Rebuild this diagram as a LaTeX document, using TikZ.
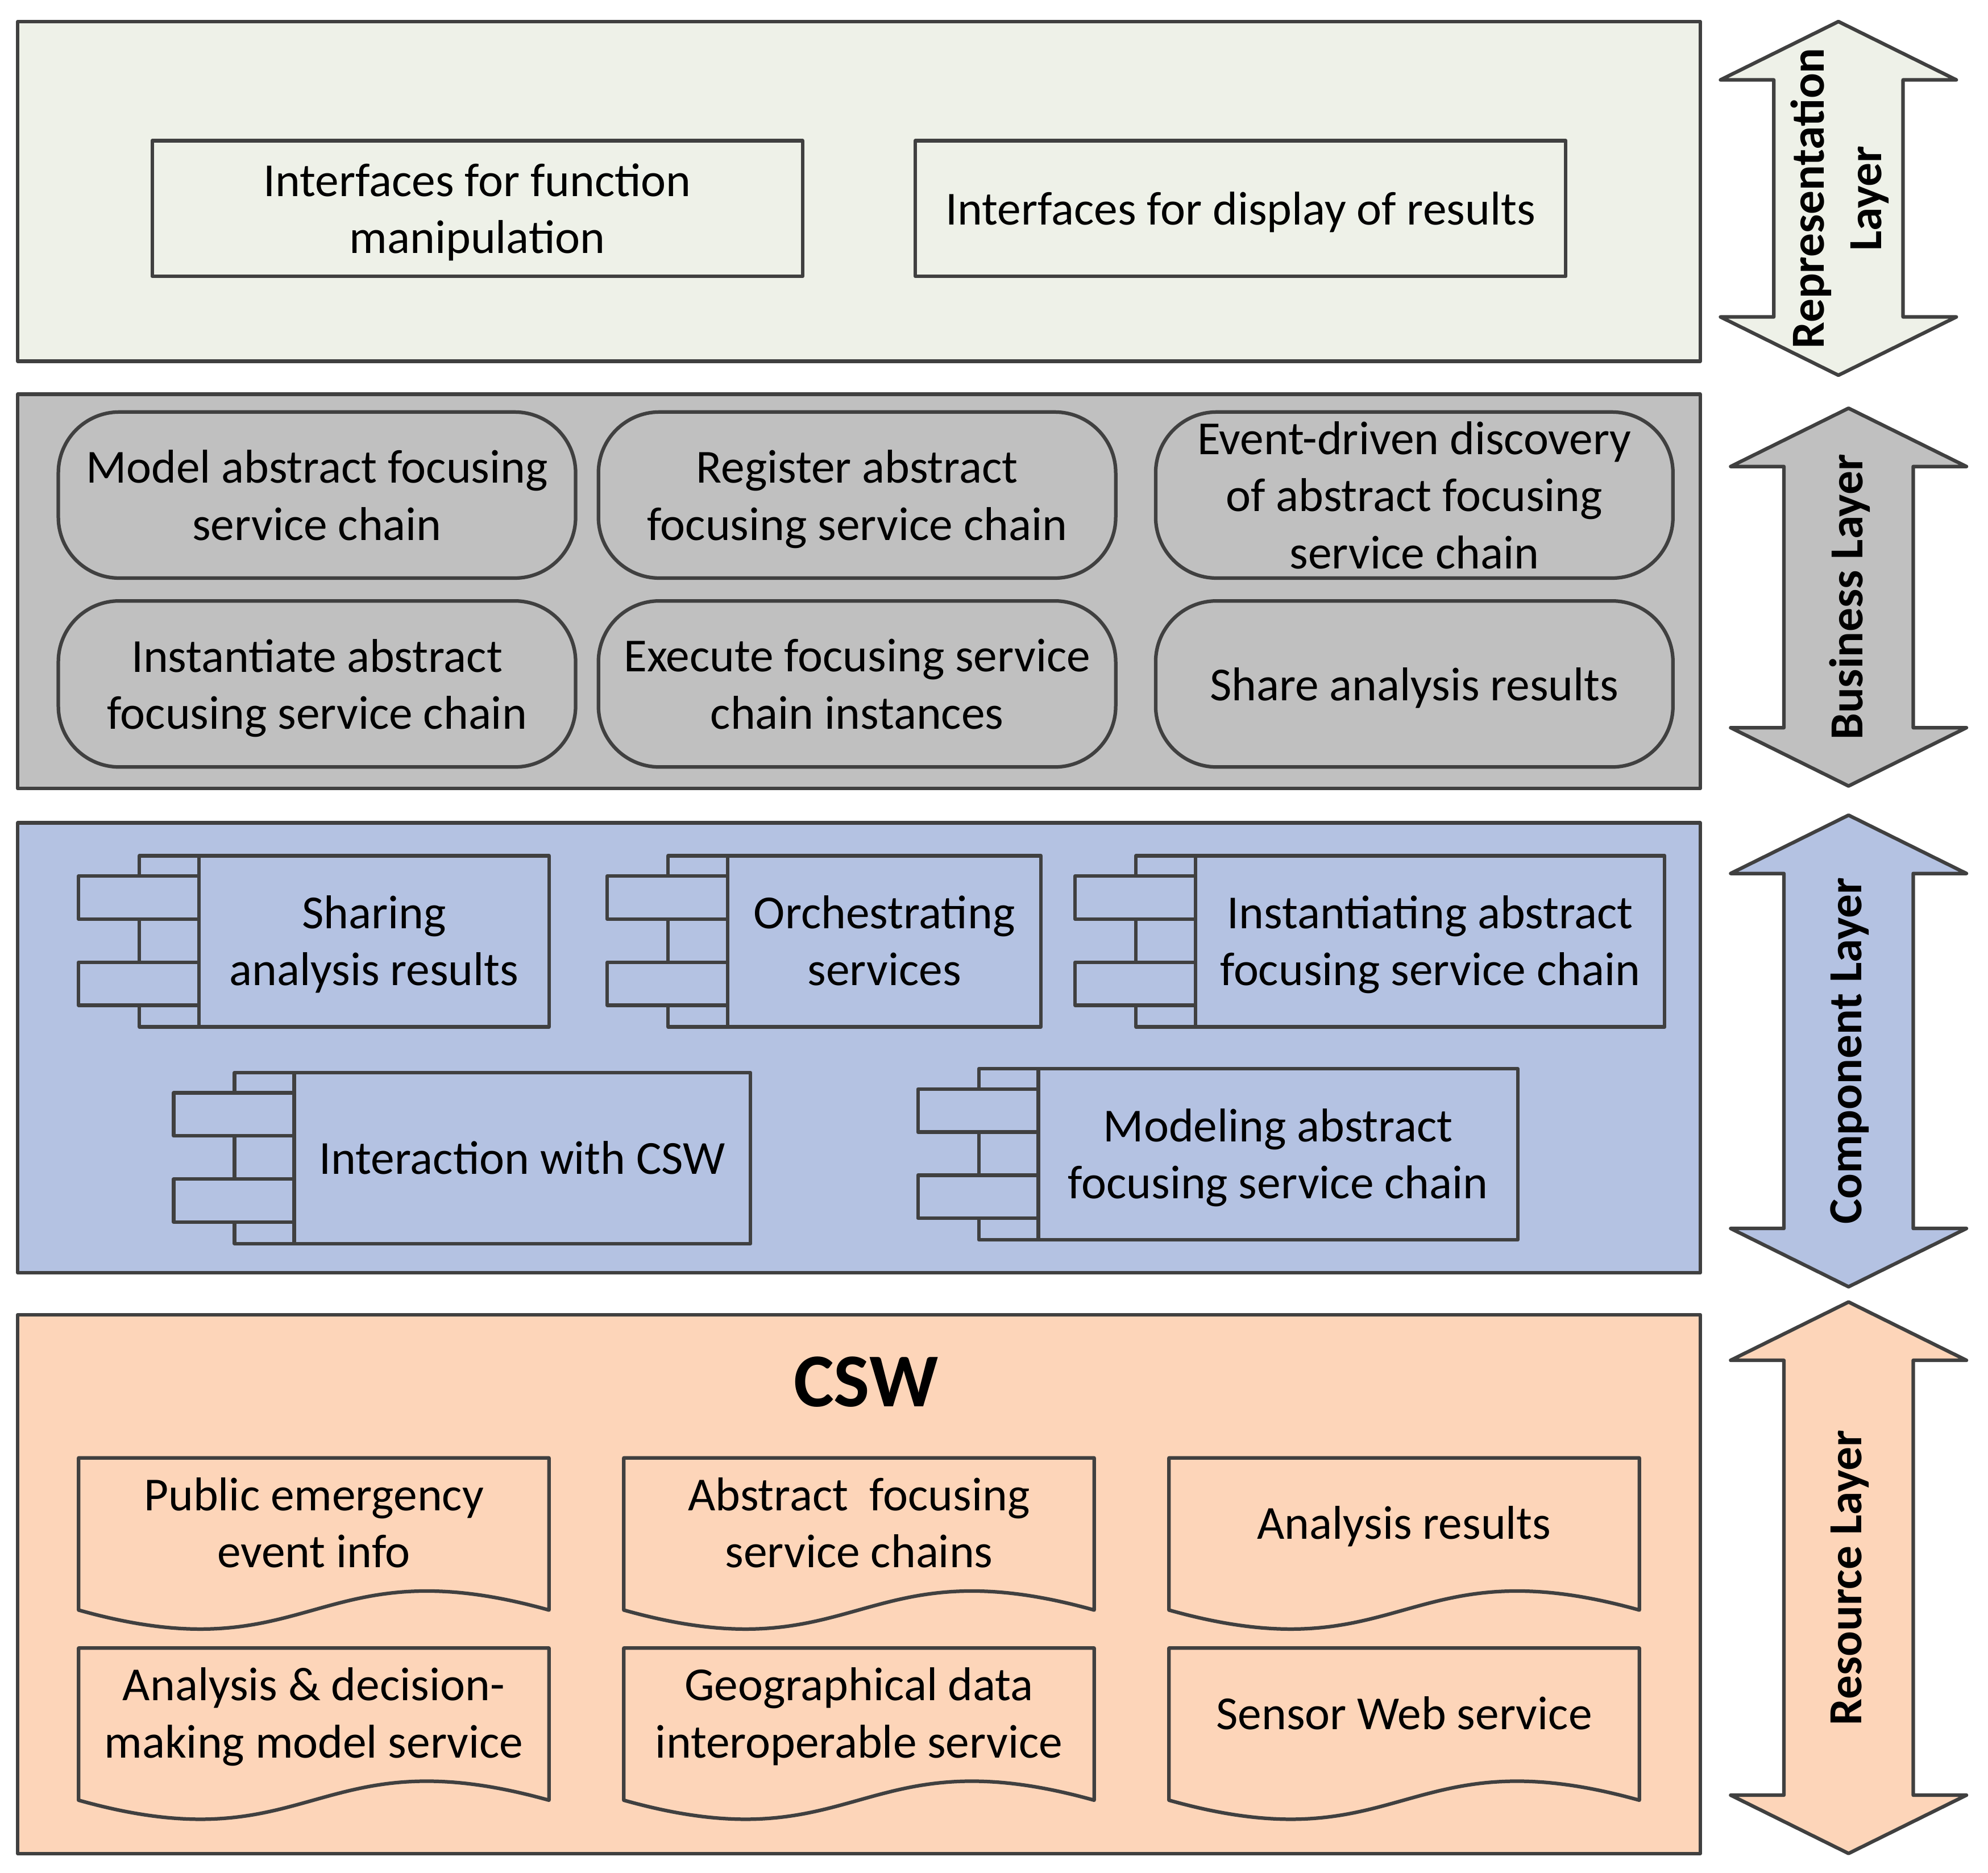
\documentclass[tikz,border=0pt]{standalone}
\usepackage{fontspec}
\setmainfont{Carlito}

\definecolor{linegray}{HTML}{404040}
\definecolor{repfill}{HTML}{EEF1E8}
\definecolor{busfill}{HTML}{C0C0C0}
\definecolor{compfill}{HTML}{B4C2E2}
\definecolor{resfill}{HTML}{FDD5B9}

\newcommand{\boxfont}{\fontsize{18.7}{22.5}\selectfont}

% document shape with wavy bottom: name, left, top, text
\newcommand{\docbox}[4]{%
    \begin{scope}[shift={(#2,#3)}]
        \draw[shapeline, fill=resfill] (0,0) -- (371,0) -- (371,120)
            .. controls (185,68) and (185,172) .. (0,120) -- cycle;
        \node[boxtext] (#1) at (185.5,51) {#4};
    \end{scope}}

% component icon: name, left, top, right, text
\newcommand{\compbox}[5]{%
    \begin{scope}[shift={(#2,#3)}]
        \draw[shapeline, fill=compfill] (48,0) rectangle (#4-#2,135);
        \draw[shapeline] (95,0) -- (95,135);
        \draw[shapeline, fill=compfill] (0,16) rectangle (95,50);
        \draw[shapeline, fill=compfill] (0,84) rectangle (95,118);
        \node[boxtext] (#1) at ({(95+#4-#2)/2},67) {#5};
    \end{scope}}

% double arrow at the side: name, centre x, top, bottom, fill, text
\newcommand{\layerarrow}[6]{%
    \draw[shapeline, fill=#5] (#2,#3) -- (#2+93,#3+46) -- (#2+51,#3+46)
        -- (#2+51,#4-46) -- (#2+93,#4-46) -- (#2,#4) -- (#2-93,#4-46)
        -- (#2-51,#4-46) -- (#2-51,#3+46) -- (#2-93,#3+46) -- cycle;
    \node[layertext] (#1) at (#2+1,{(#3+#4)/2}) {#6};}

\begin{document}
\begin{tikzpicture}[x=0.5pt, y=-0.5pt,
    shapeline/.style={draw=linegray, line width=1.4pt, line join=round},
    boxtext/.style={align=center, font=\boxfont, inner sep=0pt, text depth=0pt},
    layertext/.style={align=center, font=\boxfont\bfseries, rotate=90, inner sep=0pt},
    plainbox/.style={shapeline, boxtext, minimum width=256.5pt, minimum height=53.5pt},
    taskbox/.style={shapeline, boxtext, fill=busfill, rounded corners=24pt,
        minimum width=204pt, minimum height=65.5pt}]
    \useasboundingbox (0,0) rectangle (1568,1477);

    % representation layer
    \draw[shapeline, fill=repfill] (14,17) rectangle (1341,285);
    \node[plainbox] (funcui) at (376.5,164.5) {Interfaces for function\\manipulation};
    \node[plainbox] (dispui) at (978.5,164.5) {Interfaces for display of results};

    % business layer
    \draw[shapeline, fill=busfill] (14,311) rectangle (1341,622);
    \node[taskbox] (model) at (250,390.5) {Model abstract focusing\\service chain};
    \node[taskbox] (register) at (676,390.5) {Register abstract\\focusing service chain};
    \node[taskbox] (discover) at (1115.5,390.5) {Event-driven discovery\\of abstract focusing\\service chain};
    \node[taskbox] (instantiate) at (250,539.5) {Instantiate abstract\\focusing service chain};
    \node[taskbox] (execute) at (676,539.5) {Execute focusing service\\chain instances};
    \node[taskbox] (share) at (1115.5,539.5) {Share analysis results};

    % component layer
    \draw[shapeline, fill=compfill] (14,649) rectangle (1341,1004);
    \compbox{sharing}{62}{675}{433}{Sharing\\analysis results}
    \compbox{orchestrating}{479}{675}{821}{Orchestrating\\services}
    \compbox{instantiating}{848}{675}{1313}{Instantiating abstract\\focusing service chain}
    \compbox{interaction}{137}{846}{592}{Interaction with CSW}
    \compbox{modeling}{724}{843}{1197}{Modeling abstract\\focusing service chain}

    % resource layer
    \draw[shapeline, fill=resfill] (14,1037) rectangle (1341,1462);
    \node[font=\fontsize{30}{36}\selectfont\bfseries] (csw) at (683,1090) {CSW};
    \docbox{eventinfo}{62}{1150}{Public emergency\\event info}
    \docbox{chains}{492}{1150}{Abstract~ focusing\\service chains}
    \docbox{results}{922}{1150}{Analysis results}
    \docbox{decision}{62}{1300}{Analysis \& decision-\\making model service}
    \docbox{geodata}{492}{1300}{Geographical data\\interoperable service}
    \docbox{sensorweb}{922}{1300}{Sensor Web service}

    % layer arrows
    \layerarrow{replayer}{1450}{17}{296}{repfill}{Representation\\Layer}
    \layerarrow{buslayer}{1458}{322}{620}{busfill}{Business Layer}
    \layerarrow{complayer}{1458}{643}{1015}{compfill}{Component Layer}
    \layerarrow{reslayer}{1458}{1027}{1462}{resfill}{Resource Layer}
\end{tikzpicture}
\end{document}
